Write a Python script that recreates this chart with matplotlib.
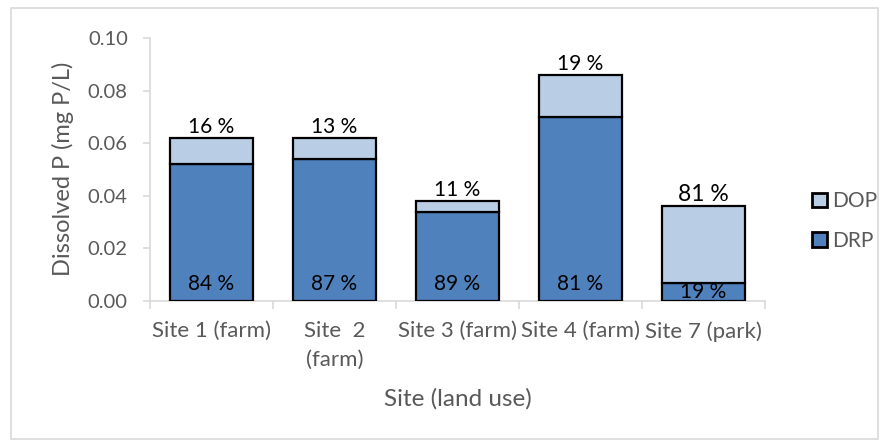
import matplotlib
matplotlib.use("Agg")
import matplotlib.pyplot as plt
from matplotlib.patches import Rectangle
import numpy as np

plt.rcParams['font.family'] = ['Lato', 'DejaVu Sans']

sites = ["Site 1 (farm)", "Site  2\n(farm)", "Site 3 (farm)", "Site 4 (farm)", "Site 7 (park)"]
drp = [0.052, 0.054, 0.034, 0.070, 0.007]
dop = [0.010, 0.008, 0.004, 0.016, 0.029]
dop_pct = ["16 %", "13 %", "11 %", "19 %", "81 %"]
drp_pct = ["84 %", "87 %", "89 %", "81 %", "19 %"]

c_drp = "#4F81BD"
c_dop = "#B9CDE5"
gray = "#595959"
axcol = "#D9D9D9"

W, H = 885, 443
fig = plt.figure(figsize=(W/100, H/100), dpi=100)
fig.patches.append(Rectangle((0.012, 0.008), 0.98, 0.975, transform=fig.transFigure,
                             fill=False, edgecolor=axcol, linewidth=1.2))
ax = fig.add_axes([150/W, 1-301/H, (765-150)/W, (301-38)/H])

x = np.arange(len(sites))
w = 0.67
ax.bar(x, drp, w, color=c_drp, edgecolor="black", linewidth=1.6, label="DRP", zorder=3)
ax.bar(x, dop, w, bottom=drp, color=c_dop, edgecolor="black", linewidth=1.6, label="DOP", zorder=3)

for i in range(len(sites)):
    top = drp[i] + dop[i]
    fs = 16.5 if i == 4 else 15
    ax.text(x[i], top + 0.0005, dop_pct[i], ha="center", va="bottom", fontsize=fs, color="black")
    yb = 0.0025 if drp[i] > 0.02 else -0.0004
    ax.text(x[i], yb, drp_pct[i], ha="center", va="bottom", fontsize=15, color="black",
            zorder=4, clip_on=True)

ax.set_xlim(-0.5, len(sites) - 0.5)
ax.set_ylim(0, 0.10)
ax.set_yticks(np.arange(0, 0.101, 0.02))
ax.set_yticklabels([f"{v:.2f}" for v in np.arange(0, 0.101, 0.02)])
ax.set_xticks(x)
ax.set_xticklabels(sites, linespacing=1.55)
ax.set_xticks(np.arange(-0.5, len(sites), 1.0), minor=True)

for s in ["top", "right"]:
    ax.spines[s].set_visible(False)
for s in ["left", "bottom"]:
    ax.spines[s].set_color(axcol)
    ax.spines[s].set_linewidth(1.2)
ax.tick_params(axis="y", colors=gray, labelsize=14.5, length=5, width=1.2, color=axcol, direction="out", pad=11)
ax.tick_params(axis="x", which="major", length=0, colors=gray, labelsize=16, pad=14.5)
ax.tick_params(axis="x", which="minor", length=6, width=1.2, color=axcol)

fig.text(63/W, 1-169/H, "Dissolved P (mg P/L)", fontsize=17, color=gray,
         rotation=90, ha="center", va="center")
fig.text(457.5/W, 1-399/H, "Site (land use)", fontsize=17.5, color=gray,
         ha="center", va="center")

h, l = ax.get_legend_handles_labels()
leg = fig.legend(h[::-1], l[::-1], loc="center left", bbox_to_anchor=(804/W, 1-221/H),
                 frameon=False, fontsize=15, handlelength=0.68, handleheight=0.68,
                 handletextpad=0.25, labelspacing=0.95, borderaxespad=0)
for t in leg.get_texts():
    t.set_color(gray)
for p in leg.get_patches():
    p.set_linewidth(2)

fig.savefig("out.png", dpi=100)
